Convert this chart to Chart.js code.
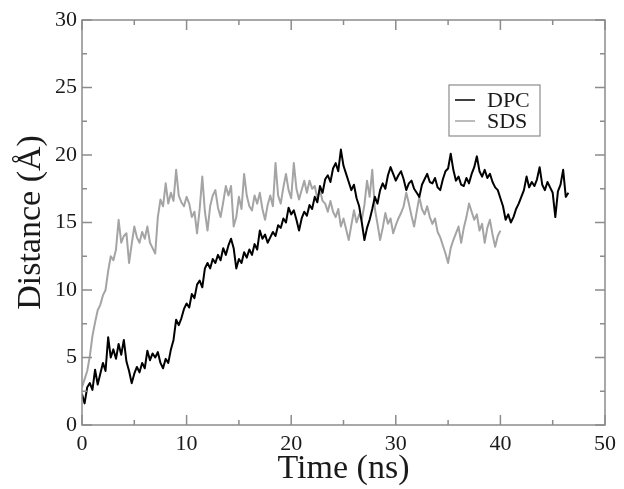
<!DOCTYPE html>
<html>
<head>
<meta charset="utf-8">
<script src="https://cdn.jsdelivr.net/npm/chart.js@4.4.1/dist/chart.umd.min.js"></script>
<style>
  html, body { margin: 0; padding: 0; background: #fff; }
  #wrap { width: 624px; height: 489px; position: relative; }
</style>
</head>
<body>
<div id="wrap"><canvas id="chartJarak"></canvas></div>
<script>
// sampling step (ns) of the two traces
const step = 0.25;

// DPC distance (Å), t = 0 .. 46.5 ns, 8 values per 2 ns
const dpcDist = [
  2.3, 1.6, 2.8, 3.1, 2.6, 4.1, 3.0, 3.8,
  4.6, 4.0, 6.5, 5.0, 5.6, 4.9, 6.0, 5.2,
  6.3, 4.7, 4.0, 3.1, 3.8, 4.3, 3.9, 4.6,
  4.2, 5.5, 4.8, 5.3, 5.0, 5.4, 4.6, 4.2,
  4.9, 4.6, 5.6, 6.3, 7.8, 7.4, 7.9, 8.6,
  9.0, 8.7, 9.7, 9.4, 10.4, 10.7, 10.2, 11.6,
  12.0, 11.6, 12.3, 12.0, 12.6, 12.2, 13.1, 12.6,
  13.3, 13.8, 13.1, 11.6, 12.3, 12.0, 12.8, 12.4,
  13.0, 12.6, 13.4, 13.0, 14.4, 13.8, 14.1, 13.5,
  13.9, 14.3, 14.0, 14.8, 14.6, 15.3, 15.0, 16.1,
  15.6, 15.9, 15.2, 14.4, 15.3, 15.8, 15.5, 16.3,
  16.0, 16.9, 16.5, 17.7, 17.2, 18.2, 18.5, 18.0,
  19.0, 19.4, 18.8, 20.4, 19.2, 18.6, 18.0, 17.4,
  17.8, 16.8, 16.2, 15.0, 13.7, 14.6, 15.2, 16.0,
  16.9, 16.4, 17.4, 17.9, 17.5, 18.5, 19.1, 18.6,
  18.1, 18.5, 18.8, 18.2, 17.4, 17.9, 18.1, 17.5,
  17.2, 16.9, 17.8, 18.2, 18.6, 18.0, 17.9, 18.3,
  17.6, 17.4, 18.2, 18.8, 19.0, 20.1, 18.9, 18.1,
  18.4, 17.8, 17.7, 18.3, 17.9, 18.6, 19.1, 19.9,
  18.8, 18.4, 18.9, 18.3, 18.6, 18.0, 17.6, 17.4,
  16.8, 16.2, 15.2, 15.6, 15.0, 15.4, 16.0, 16.4,
  16.9, 17.4, 18.4, 17.6, 18.0, 17.7, 18.2, 19.1,
  17.8, 17.4, 18.0, 17.6, 17.2, 15.4, 17.3, 17.8,
  18.9, 16.9, 17.2
];

// SDS distance (Å), t = 0 .. 40 ns
const sdsDist = [
  2.8, 3.4, 4.0, 5.1, 6.6, 7.6, 8.5, 8.9,
  9.6, 10.0, 11.4, 12.5, 12.2, 13.0, 15.2, 13.5,
  14.0, 14.2, 12.0, 13.4, 14.7, 13.9, 13.5, 14.3,
  13.8, 14.7, 13.5, 13.1, 12.7, 15.4, 16.7, 16.2,
  17.9, 16.4, 17.2, 16.6, 18.9, 17.0, 16.5, 16.2,
  16.9, 16.4, 15.4, 15.8, 14.2, 16.0, 18.4, 15.8,
  14.4, 16.2, 17.0, 17.4, 16.1, 15.4, 16.5, 17.7,
  17.0, 17.7, 14.7, 15.4, 16.9, 16.0, 18.6, 17.0,
  16.2, 15.9, 17.0, 16.4, 17.2, 16.0, 15.2, 16.3,
  17.0, 16.2, 19.4, 17.0, 16.4, 17.6, 18.6, 17.4,
  16.8, 19.4, 17.5, 16.7, 17.4, 18.1, 17.2, 18.1,
  17.5, 17.7, 16.8, 17.4, 16.6, 16.4, 15.8, 16.6,
  15.8, 15.4, 16.0, 14.7, 15.3, 14.5, 13.7, 14.8,
  15.9, 15.0, 15.6, 15.2, 16.3, 18.1, 16.9, 18.9,
  16.0, 14.9, 13.7, 14.6, 15.7, 14.9, 15.3, 14.2,
  14.8, 15.3, 15.7, 16.2, 17.2, 16.4, 15.5, 14.7,
  15.8, 16.9, 16.0, 15.6, 16.2, 15.4, 14.9, 15.3,
  14.3, 13.9, 13.3, 12.7, 12.0, 13.1, 13.7, 14.2,
  14.7, 13.5, 14.6, 15.4, 16.4, 15.8, 15.2, 15.6,
  14.4, 14.9, 13.5, 14.6, 15.2, 14.1, 13.2, 14.0,
  14.4
];

const seriesLabels = ['DPC', 'SDS'];
const xTicks = [0, 5, 10, 15, 20, 25, 30, 35, 40, 45, 50];
const yTicks = [0, 2.5, 5, 7.5, 10, 12.5, 15, 17.5, 20, 22.5, 25, 27.5, 30];

const frameColor = '#8c8c8c';
const textColor = '#1a1a1a';
const serif = "'Liberation Serif', 'DejaVu Serif', serif";

const toPoints = arr => arr.map((v, i) => ({ x: i * step, y: v }));

// bingkai + tick ke dalam di keempat sisi (gaya xmgrace)
const frameTicks = {
  id: 'frameTicks',
  afterDatasetsDraw(chart) {
    const { ctx, chartArea: a, scales: { x, y } } = chart;
    ctx.save();
    ctx.strokeStyle = frameColor;
    ctx.lineWidth = 1.5;
    ctx.strokeRect(a.left, a.top, a.right - a.left, a.bottom - a.top);
    ctx.beginPath();
    xTicks.forEach(v => {
      const px = x.getPixelForValue(v);
      const len = v % 10 === 0 ? 10 : 5;
      ctx.moveTo(px, a.bottom); ctx.lineTo(px, a.bottom - len);
      ctx.moveTo(px, a.top); ctx.lineTo(px, a.top + len);
    });
    yTicks.forEach(v => {
      const py = y.getPixelForValue(v);
      const len = v % 5 === 0 ? 10 : 5;
      ctx.moveTo(a.left, py); ctx.lineTo(a.left + len, py);
      ctx.moveTo(a.right, py); ctx.lineTo(a.right - len, py);
    });
    ctx.stroke();
    ctx.restore();
  }
};

// legenda di dalam area plot
const boxLegend = {
  id: 'boxLegend',
  afterDraw(chart) {
    const { ctx, chartArea: a } = chart;
    const bx = a.left + 367, by = a.top + 65, bw = 91, bh = 51;
    ctx.save();
    ctx.fillStyle = '#fff';
    ctx.fillRect(bx, by, bw, bh);
    ctx.strokeStyle = frameColor;
    ctx.lineWidth = 1.2;
    ctx.strokeRect(bx, by, bw, bh);
    ctx.font = '22px ' + serif;
    ctx.textBaseline = 'middle';
    chart.data.datasets.forEach((ds, i) => {
      const ly = by + 15 + i * 21;
      ctx.strokeStyle = ds.borderColor;
      ctx.lineWidth = 1.5;
      ctx.beginPath();
      ctx.moveTo(bx + 6, ly); ctx.lineTo(bx + 26, ly);
      ctx.stroke();
      ctx.fillStyle = textColor;
      ctx.fillText(ds.label, bx + 38, ly + 1);
    });
    ctx.restore();
  }
};

new Chart(document.getElementById('chartJarak'), {
  type: 'line',
  data: {
    datasets: [
      { label: seriesLabels[0], data: toPoints(dpcDist), borderColor: '#000000', borderWidth: 2, borderJoinStyle: 'round', pointRadius: 0, tension: 0 },
      { label: seriesLabels[1], data: toPoints(sdsDist), borderColor: '#a4a4a4', borderWidth: 2, borderJoinStyle: 'round', pointRadius: 0, tension: 0 }
    ]
  },
  options: {
    responsive: true,
    maintainAspectRatio: false,
    animation: false,
    devicePixelRatio: 1,
    layout: { padding: { left: 0, right: 19, top: 20, bottom: 0 } },
    plugins: { legend: { display: false }, tooltip: { enabled: false } },
    scales: {
      x: {
        type: 'linear', min: 0, max: 50,
        afterFit: s => { s.height = 64; },
        grid: { display: false, drawTicks: false },
        border: { display: false },
        ticks: { stepSize: 10, padding: 6, color: textColor, font: { family: serif, size: 22 }, maxRotation: 0 },
        title: { display: true, text: 'Time (ns)', color: textColor, font: { family: serif, size: 34 }, padding: { top: 0, bottom: 0 } }
      },
      y: {
        type: 'linear', min: 0, max: 30,
        afterFit: s => { s.width = 82; },
        grid: { display: false, drawTicks: false },
        border: { display: false },
        ticks: { stepSize: 5, padding: 5, color: textColor, font: { family: serif, size: 22 } },
        title: { display: true, text: 'Distance (Å)', color: textColor, font: { family: serif, size: 34 }, padding: { top: 11, bottom: 0 } }
      }
    }
  },
  plugins: [frameTicks, boxLegend]
});
</script>
</body>
</html>
